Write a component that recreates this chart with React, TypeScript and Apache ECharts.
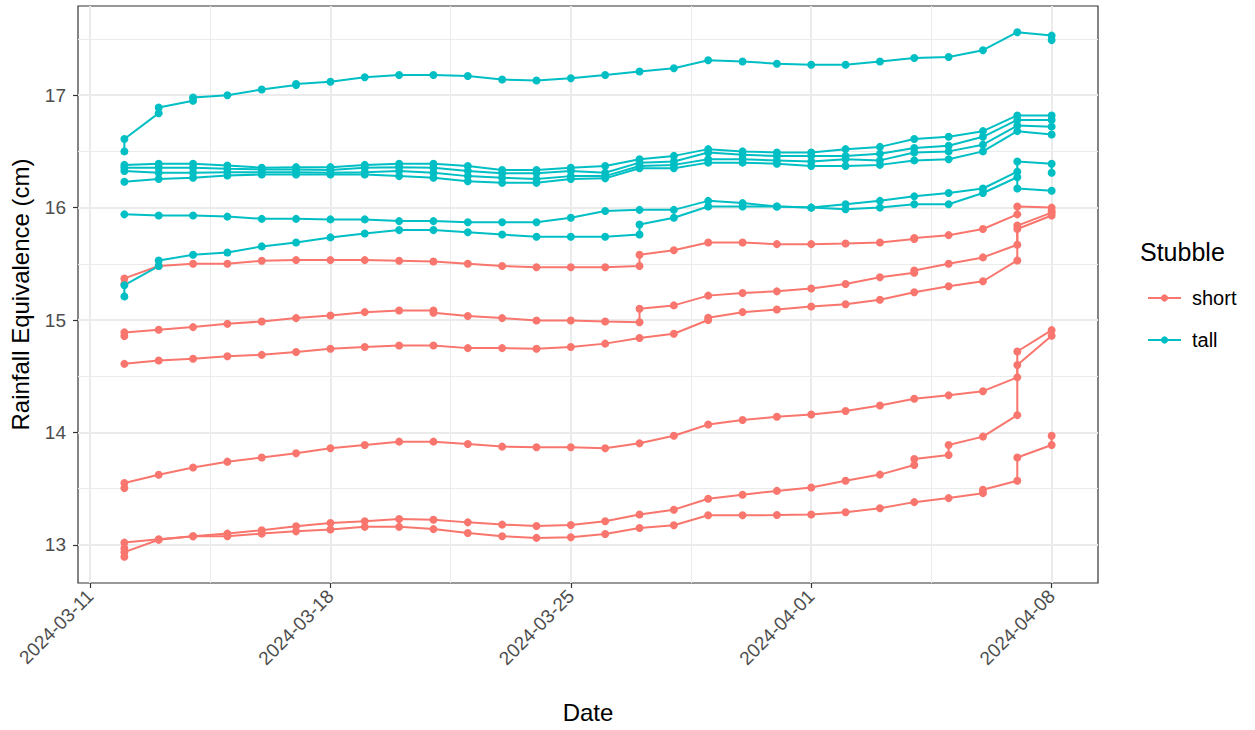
import React, { useEffect, useRef } from "react";
import * as echarts from "echarts";

// Measurement dates (one column per day); a cell with two values = two readings that day
const dates = [
  "2024-03-12", "2024-03-13", "2024-03-14", "2024-03-15", "2024-03-16", "2024-03-17", "2024-03-18",
  "2024-03-19", "2024-03-20", "2024-03-21", "2024-03-22", "2024-03-23", "2024-03-24", "2024-03-25",
  "2024-03-26", "2024-03-27", "2024-03-28", "2024-03-29", "2024-03-30", "2024-03-31", "2024-04-01",
  "2024-04-02", "2024-04-03", "2024-04-04", "2024-04-05", "2024-04-06", "2024-04-07", "2024-04-08",
];

type Cell = number | number[];

// Stubble = short
const short1: Cell[] = [[15.32, 15.37], 15.48, 15.5, 15.5, 15.527, 15.533, 15.533, 15.533, 15.527, 15.52, 15.5, 15.48, 15.47, 15.47, 15.47, [15.48, 15.58], 15.62, 15.69, 15.69, 15.675, 15.675, 15.68, 15.69, [15.72, 15.73], 15.755, 15.81, [15.94, 16.01], [16.0, 15.97]];
const short2: Cell[] = [[14.857, 14.89], 14.913, 14.937, 14.966, 14.987, 15.017, 15.04, 15.07, 15.085, [15.085, 15.065], 15.035, 15.017, 14.996, 14.996, 14.987, [14.98, 15.1], 15.13, 15.217, 15.24, 15.255, 15.28, 15.32, 15.38, [15.42, 15.44], 15.5, 15.557, [15.67, 15.84], 15.955];
const short3: Cell[] = [14.61, 14.64, 14.656, 14.677, 14.69, 14.716, 14.745, 14.76, 14.774, 14.774, 14.75, 14.75, 14.745, 14.76, 14.79, 14.84, 14.878, [15.0, 15.02], 15.07, 15.093, 15.12, 15.14, 15.18, 15.247, 15.3, 15.345, [15.53, 15.81], 15.93];
const short4: Cell[] = [[13.505, 13.55], 13.623, 13.688, 13.74, 13.777, 13.815, 13.86, 13.888, 13.918, 13.918, 13.897, 13.874, 13.868, 13.868, 13.86, 13.903, 13.97, 14.07, 14.11, 14.14, 14.16, 14.19, 14.24, 14.3, 14.33, 14.367, [14.49, 14.72], 14.91];
const short5: Cell[] = [[12.97, 13.02], 13.05, 13.077, 13.1, 13.13, 13.165, 13.195, 13.21, 13.23, 13.224, 13.2, 13.18, 13.168, 13.176, 13.21, 13.27, 13.313, 13.41, 13.446, 13.48, 13.51, 13.57, 13.625, [13.71, 13.764], [13.8, 13.888], 13.963, [14.154, 14.6], 14.86];
const short6: Cell[] = [[12.894, 12.935], 13.045, 13.077, 13.077, 13.1, 13.12, 13.136, 13.16, 13.16, 13.14, 13.106, 13.077, 13.062, 13.068, 13.097, 13.15, 13.174, 13.263, 13.263, 13.265, 13.27, 13.29, 13.325, 13.38, 13.416, [13.46, 13.49], [13.57, 13.777], [13.888, 13.97]];

// Stubble = tall
const tall1: Cell[] = [[16.5, 16.61], [16.84, 16.89], [16.95, 16.98], 17.0, 17.05, [17.09, 17.1], 17.12, 17.16, 17.18, 17.18, 17.17, 17.14, 17.13, 17.15, 17.18, 17.21, 17.24, 17.31, 17.3, 17.28, 17.27, 17.27, 17.3, 17.33, 17.34, 17.4, 17.56, [17.53, 17.49]];
const tall2: Cell[] = [16.38, 16.39, 16.39, 16.375, 16.355, 16.36, 16.36, 16.38, 16.39, 16.39, 16.37, 16.335, 16.335, 16.355, 16.37, 16.43, 16.46, 16.52, 16.5, 16.49, 16.49, 16.52, 16.54, 16.61, 16.63, 16.68, 16.82, 16.82];
const tall3: Cell[] = [16.355, 16.355, 16.355, 16.345, 16.34, 16.34, 16.335, 16.355, 16.36, 16.355, 16.325, 16.305, 16.305, 16.325, 16.31, 16.4, 16.41, 16.49, 16.47, 16.46, 16.46, 16.46, 16.48, 16.53, 16.55, 16.63, 16.78, 16.78];
const tall4: Cell[] = [16.325, 16.31, 16.31, 16.315, 16.315, 16.315, 16.31, 16.315, 16.325, 16.31, 16.28, 16.265, 16.255, 16.28, 16.28, 16.37, 16.38, 16.43, 16.43, 16.42, 16.41, 16.43, 16.42, 16.49, 16.5, 16.56, 16.73, 16.72];
const tall5: Cell[] = [16.23, 16.255, 16.265, 16.285, 16.295, 16.295, 16.295, 16.295, 16.28, 16.265, 16.235, 16.22, 16.22, 16.255, 16.26, 16.35, 16.35, 16.4, 16.4, 16.39, 16.37, 16.37, 16.38, 16.42, 16.43, 16.5, 16.68, 16.65];
const tall6: Cell[] = [15.94, 15.93, 15.93, 15.92, 15.9, 15.9, 15.895, 15.895, 15.88, 15.88, 15.87, 15.87, 15.87, 15.91, 15.97, 15.98, 15.98, 16.06, 16.04, 16.01, 16.0, 16.03, 16.06, 16.1, 16.13, 16.17, [16.32, 16.41], [16.39, 16.31]];
const tall7: Cell[] = [[15.21, 15.31], [15.48, 15.53], 15.58, 15.6, 15.655, 15.69, 15.735, 15.77, 15.8, 15.8, 15.78, 15.76, 15.74, 15.74, 15.74, [15.76, 15.85], 15.91, 16.01, 16.01, 16.01, 16.0, 15.985, 16.0, 16.03, 16.03, 16.13, [16.27, 16.17], 16.15];

const shortSensors = [short1, short2, short3, short4, short5, short6];
const tallSensors = [tall1, tall2, tall3, tall4, tall5, tall6, tall7];

// Tick positions
const xMajorTicks = ["2024-03-11", "2024-03-18", "2024-03-25", "2024-04-01", "2024-04-08"];
const xMinorTicks = ["2024-03-14T12:00:00Z", "2024-03-21T12:00:00Z", "2024-03-28T12:00:00Z", "2024-04-04T12:00:00Z"];
const yMajorTicks = [13, 14, 15, 16, 17];
const yMinorTicks = [13.5, 14.5, 15.5, 16.5, 17.5];

const SHORT_COLOR = "#F8766D";
const TALL_COLOR = "#00BFC4";
const FONT = "Liberation Sans, Arial, sans-serif";

const ts = (d: string) => Date.parse(d);

const toPoints = (vals: Cell[]) =>
  vals.flatMap((v, i) => (Array.isArray(v) ? v : [v]).map((y) => [ts(dates[i]), y]));

const pad2 = (n: number) => (n < 10 ? "0" + n : "" + n);
const fmtDate = (v: number) => {
  const d = new Date(v);
  return d.getUTCFullYear() + "-" + pad2(d.getUTCMonth() + 1) + "-" + pad2(d.getUTCDate());
};

export default function App() {
  const ref = useRef<HTMLDivElement>(null);

  useEffect(() => {
    if (!ref.current) return;
    const chart = echarts.init(ref.current, undefined, { renderer: "svg" });

    const allY = [...shortSensors, ...tallSensors].flatMap((s) => s.flatMap((v) => (Array.isArray(v) ? v : [v])));
    const yLo = Math.min(...allY);
    const yHi = Math.max(...allY);
    const yPad = (yHi - yLo) * 0.05;
    const xLo = ts(dates[0]);
    const xHi = ts(dates[dates.length - 1]);
    const xPad = (xHi - xLo) * 0.05;

    const mkSeries = (vals: Cell[], name: string, color: string) => ({
      type: "line",
      name,
      data: toPoints(vals),
      xAxisIndex: 0,
      yAxisIndex: 0,
      symbol: "circle",
      symbolSize: 8,
      showSymbol: true,
      showAllSymbol: true,
      color,
      itemStyle: { color },
      lineStyle: { color, width: 2 },
      emphasis: { disabled: true },
      z: 3,
    });

    const series = [
      ...shortSensors.map((s) => mkSeries(s, "short", SHORT_COLOR)),
      ...tallSensors.map((s) => mkSeries(s, "tall", TALL_COLOR)),
    ];

    const tickStyle = { color: "#333333", width: 1.2 };

    chart.setOption({
      animation: false,
      textStyle: { fontFamily: FONT },
      grid: {
        left: 78,
        top: 6,
        right: 157,
        bottom: 147,
        show: true,
        borderColor: "#333333",
        borderWidth: 1.2,
        backgroundColor: "transparent",
        containLabel: false,
      },
      title: {
        text: "Stubble",
        left: 1135,
        top: 234,
        textStyle: { fontSize: 25, fontWeight: "normal", color: "#000", fontFamily: FONT },
      },
      legend: {
        orient: "vertical",
        left: 1142,
        top: 283,
        itemWidth: 33,
        itemHeight: 9,
        itemGap: 22,
        data: ["short", "tall"],
        textStyle: { fontSize: 20, color: "#000", fontFamily: FONT, padding: [0, 0, 0, 6] },
        selectedMode: false,
      },
      xAxis: [
        {
          type: "value",
          min: xLo - xPad,
          max: xHi + xPad,
          axisLine: { show: false },
          axisTick: { show: true, length: 5, lineStyle: tickStyle, customValues: xMajorTicks.map(ts) },
          axisLabel: {
            customValues: xMajorTicks.map(ts),
            formatter: (v: number) => fmtDate(v),
            rotate: 45,
            color: "#4D4D4D",
            fontSize: 19,
            margin: 10,
            fontFamily: FONT,
          },
          splitLine: { show: true, lineStyle: { color: "#EBEBEB", width: 2 } },
          name: "Date",
          nameLocation: "middle",
          nameGap: 117,
          nameTextStyle: { fontSize: 24, color: "#000", fontFamily: FONT },
        },
        {
          type: "value",
          position: "top",
          min: xLo - xPad,
          max: xHi + xPad,
          axisLine: { show: false },
          axisTick: { show: false, customValues: xMinorTicks.map(ts) },
          axisLabel: { show: false },
          splitLine: { show: true, lineStyle: { color: "#EBEBEB", width: 1 } },
        },
      ],
      yAxis: [
        {
          type: "value",
          min: yLo - yPad,
          max: yHi + yPad,
          axisLine: { show: false },
          axisTick: { show: true, length: 5, lineStyle: tickStyle, customValues: yMajorTicks },
          axisLabel: {
            customValues: yMajorTicks,
            color: "#4D4D4D",
            fontSize: 19,
            margin: 12,
            fontFamily: FONT,
          },
          splitLine: { show: true, lineStyle: { color: "#EBEBEB", width: 2 } },
          name: "Rainfall Equivalence (cm)",
          nameLocation: "middle",
          nameGap: 46,
          nameTextStyle: { fontSize: 24, color: "#000", fontFamily: FONT },
        },
        {
          type: "value",
          position: "right",
          min: yLo - yPad,
          max: yHi + yPad,
          axisLine: { show: false },
          axisTick: { show: false, customValues: yMinorTicks },
          axisLabel: { show: false },
          splitLine: { show: true, lineStyle: { color: "#EBEBEB", width: 1 } },
        },
      ],
      series,
    });

    return () => chart.dispose();
  }, []);

  return (
    <div
      ref={ref}
      style={{ position: "absolute", left: 0, top: 0, width: 1255, height: 730, background: "#fff" }}
    />
  );
}
